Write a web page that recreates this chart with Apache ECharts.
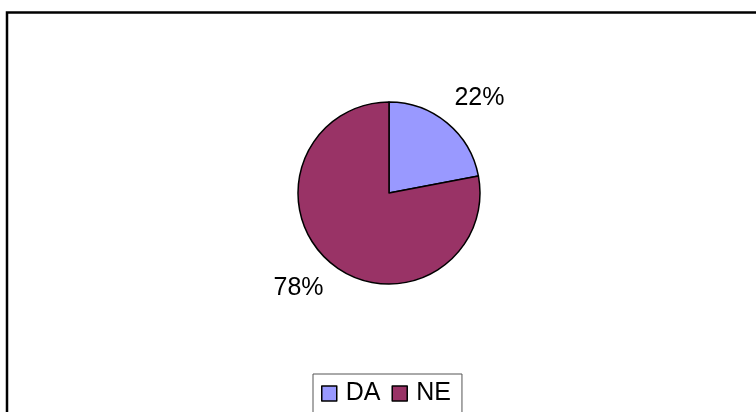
<!DOCTYPE html>
<html>
<head>
<meta charset="utf-8">
<script src="https://cdn.jsdelivr.net/npm/echarts@6/dist/echarts.min.js"></script>
<style>
  html, body { margin: 0; padding: 0; background: #fff; }
  #chart { width: 756px; height: 412px; }
</style>
</head>
<body>
<div id="chart"></div>
<script>
const categories = ['DA', 'NE'];
const values = [22, 78];
const colors = ['#9999FF', '#993366'];

const myChart = echarts.init(document.getElementById('chart'));

const chartData = categories.map((name, i) => ({
  name: name,
  value: values[i],
  itemStyle: { color: colors[i] }
}));

const option = {
  animation: false,
  textStyle: { fontFamily: 'Liberation Sans, Arial, sans-serif' },
  graphic: [
    {
      type: 'rect',
      shape: { x: 7, y: 12.5, width: 800, height: 450 },
      style: { fill: 'none', stroke: '#000', lineWidth: 2.5 },
      silent: true
    }
  ],
  legend: {
    data: categories,
    left: 313,
    top: 374,
    padding: [7, 11, 30, 8],
    borderColor: '#555',
    borderWidth: 1,
    itemWidth: 15,
    itemHeight: 15,
    itemGap: 11,
    icon: 'rect',
    itemStyle: { borderColor: '#000', borderWidth: 1.5 },
    textStyle: { color: '#000', fontSize: 25, padding: [0, 0, 0, 4] }
  },
  series: [
    {
      name: 'pie',
      type: 'pie',
      center: [389, 193],
      radius: [0, 91],
      startAngle: 90,
      clockwise: true,
      data: chartData,
      itemStyle: { borderColor: '#000', borderWidth: 1.5 },
      emphasis: { disabled: true },
      label: {
        show: true,
        position: 'outside',
        formatter: '{d}%',
        color: '#000',
        fontSize: 25
      },
      labelLine: { show: false, length: 32, length2: -18 }
    }
  ]
};

myChart.setOption(option);
</script>
</body>
</html>
